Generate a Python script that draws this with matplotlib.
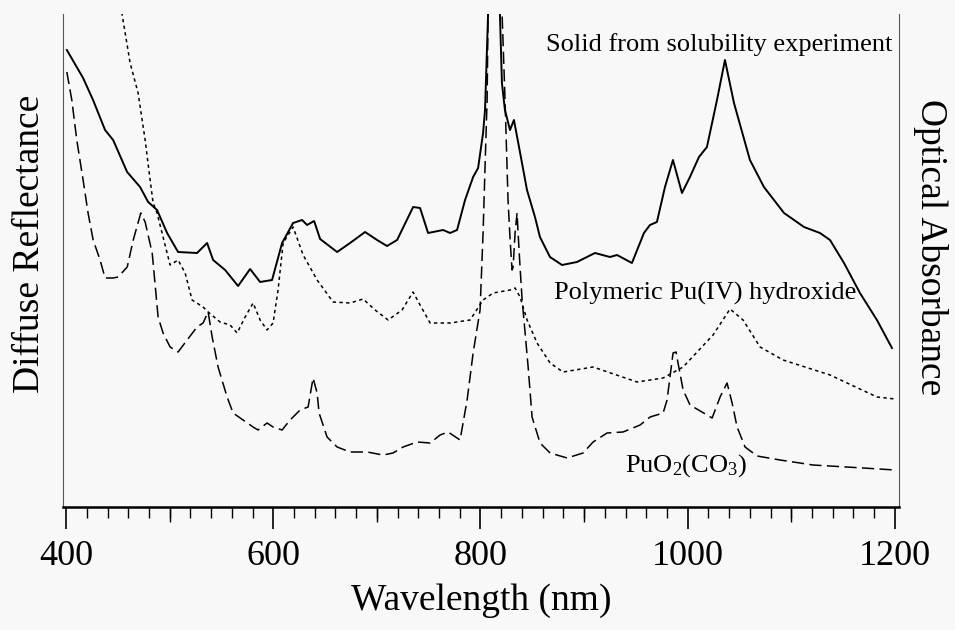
import matplotlib
matplotlib.use("Agg")
import matplotlib.pyplot as plt
import numpy as np

plt.rcParams['font.family'] = ['Liberation Serif', 'DejaVu Serif']
plt.rcParams['mathtext.fontset'] = 'custom'
plt.rcParams['mathtext.rm'] = 'Liberation Serif'
plt.rcParams['mathtext.it'] = 'Liberation Serif:italic'

# ---- data (wavelength in nm, relative intensity in arbitrary units) ----
solid_wl = [400.7, 416.4, 426, 437.6, 445.4, 458.9, 471.4, 479.2, 487.8, 497.5, 508.1,
            526.4, 536.1, 541.9, 553.5, 566, 577.6, 587.3, 598.8, 608.5, 619.1, 627.8,
            632.6, 639.4, 645.2, 661.6, 674.1, 688.6, 700.2, 709.8, 719.5, 735, 741.7,
            749.4, 763.9, 770.7, 777.4, 785.1, 792.9, 797.7, 802.5, 804.4, 807.3, 812,
            818.8, 820.7, 823.6, 828.5, 832.3, 837.2, 844.9, 852.6, 857.4, 867.1, 878.7,
            893.1, 910.5, 925, 931.8, 946.2,
            957.8, 963.6, 970.3, 978.1, 985.8, 994.5, 1002.2, 1010.9, 1018.6, 1028.3,
            1036, 1044.7, 1060.1, 1073.6, 1093, 1112.3, 1127.7, 1137.4, 1150.9, 1166.3,
            1182.7, 1197.2]
solid_val = [457, 429, 407, 377, 367, 335, 320, 305, 297, 274, 255,
             254, 264, 247, 237, 221, 238, 225, 227, 264, 284, 287,
             282, 286, 268, 255, 264, 275, 267, 261, 267, 300, 299,
             274, 277, 274, 277, 307, 330, 339, 374, 397, 492, 620,
             492, 424, 397, 377, 387, 360, 317, 290, 270, 250, 242,
             245, 254, 250, 252, 244,
             274, 282, 285, 320, 347, 314, 330, 350, 360, 407,
             447, 404, 347, 320, 294, 280, 274, 267, 244, 214,
             187, 159]

poly_wl = [445, 453.8, 461.8, 469.5, 476.3, 481.1, 484, 487.8, 493.6, 500.4, 508.1,
           514.9, 521.6, 532.2, 537.1, 548.6, 558.3, 565.1, 572.8, 580.5, 587.3, 594,
           599.8, 604.6, 609.5, 619.1,
           628.8, 642.3, 657.7, 674.1, 686.7, 698.3, 710.8, 724.3, 734.9, 741.7, 751.4,
           770.7, 790, 802.5, 812.2, 828.6, 833.4, 838.2, 845, 854.6, 867.2, 879.7,
           908.7, 951.2,
           976.3, 995.6, 1024.5, 1040.9, 1053.5, 1069.9, 1092.1, 1137.5, 1153.9,
           1182.8, 1200.2]
poly_val = [570, 494, 444, 414, 367, 327, 304, 294, 270, 242, 247,
            234, 207, 200, 195, 185, 182, 174, 190, 204, 187, 177,
            184, 217, 264, 280,
            252, 227, 205, 204, 208, 197, 187, 197, 215, 202, 184,
            184, 187, 207, 214, 217, 219, 210, 187, 164, 144, 135,
            140, 125,
            129, 140, 172, 198, 187, 160, 147, 132, 124,
            110, 108]

puo2_wl = [400.7, 405.5, 410.3, 416.4, 421.2, 426.1, 432.8, 437.6, 445.4, 450.2, 459,
           464.8, 472.1, 476.3, 483.1, 488.8, 493.6, 500.4, 508.1, 516.8, 526.4, 532.2,
           537.1, 541, 546.7, 555.4, 561.2, 570.8, 580.5, 585.3, 594, 599.8, 608.5,
           616.2, 625.9, 633.6, 638.4, 642.3, 644.2, 651.9, 661.6, 674.1, 690.5, 706,
           715.6, 725.3, 738.8, 751.4, 761, 768.7, 780.3, 787.1, 792.9, 799.6, 802.5,
           804.4, 806.4, 807.3, 812, 820.9, 823.7, 826.6, 828.6, 830.5, 831.5, 833.4,
           835.3, 836.3, 838.2, 840.2, 843.1, 846, 849.8, 857.5, 867.2, 883.6, 899,
           908.7, 922.2, 937.6, 954.1, 963.7, 976.3, 980.1, 985.9, 988.8, 990.7,
           995.6, 1002.3, 1018.7, 1023.6, 1031.3, 1038, 1042.9, 1047.7, 1055.4, 1067,
           1089.2, 1121, 1169.3, 1200.2]
puo2_val = [435, 407, 367, 327, 294, 267, 247, 229, 229, 230, 240,
            267, 294, 285, 254, 190, 174, 160, 155, 167, 180, 184,
            195, 170, 140, 110, 94, 87, 80, 77, 84, 80, 77,
            87, 97, 100, 129, 114, 94, 70, 60, 55, 55, 52,
            54, 60, 65, 64, 72, 75, 67, 107, 154, 197, 274,
            340, 407, 492, 620, 492, 407, 307, 267, 237, 240, 274,
            294, 274, 240, 207, 174, 140, 90, 64, 54, 49, 54,
            65, 74, 75, 82, 90, 94, 107, 154, 155, 144,
            117, 102, 92, 89, 110, 124, 104, 80, 60, 51,
            47, 42, 39, 37]

x_major = [400, 600, 800, 1000, 1200]
x_mid = [500, 700, 900, 1100]

label_solid = "Solid from solubility experiment"
label_poly = "Polymeric Pu(IV) hydroxide"
label_puo2 = r"PuO$_2$(CO$_3$)"

# ---- figure ----
bg = '#f8f8f8'
fig = plt.figure(figsize=(9.55, 6.3), dpi=100, facecolor=bg)
ax = fig.add_axes([63/955, 1-507/630, (899-63)/955, (507-14)/630])
ax.set_facecolor(bg)

ax.plot(solid_wl, solid_val, color='black', lw=1.4, solid_joinstyle='round')
ax.plot(poly_wl, poly_val, color='black', lw=1.1, linestyle=(0, (2.2, 2.2)))
ax.plot(puo2_wl, puo2_val, color='black', lw=1.1, linestyle=(0, (8, 3.5)))

ax.set_xlim(397, 1204)
ax.set_ylim(0, 493)

ax.spines['top'].set_visible(False)
for s in ('left', 'right'):
    ax.spines[s].set_linewidth(0.8)
    ax.spines[s].set_color('#555555')
ax.spines['bottom'].set_linewidth(1.8)
ax.spines['bottom'].set_color('black')

ax.set_yticks([])
ax.set_xticks(x_major)
ax.set_xticks(np.arange(400, 1201, 20), minor=True)
ax.tick_params(axis='x', which='major', direction='out', length=16, width=1.2,
               pad=8, labelsize=26, colors='black')
ax.tick_params(axis='x', which='minor', direction='out', length=8, width=1.0)

ax2 = ax.twiny()
ax2.set_xlim(ax.get_xlim())
ax2.xaxis.set_ticks_position('bottom')
ax2.set_xticks(x_mid)
ax2.set_xticklabels([])
ax2.tick_params(axis='x', which='major', direction='out', length=11, width=1.0)
for s in ax2.spines.values():
    s.set_visible(False)
ax2.set_yticks([])

ax.set_xlabel("Wavelength (nm)", fontsize=27, labelpad=7)

fig.text(30/955, 1-244/630, "Diffuse Reflectance", rotation=90, fontsize=27,
         ha='center', va='center')
fig.text(930/955, 1-247/630, "Optical Absorbance", rotation=270, fontsize=27,
         ha='center', va='center')

ax.text(1198, 462, label_solid, fontsize=19, ha='right', va='center')
ax.text(1162.5, 214, label_poly, fontsize=19, ha='right', va='center')
ax.text(998.5, 41, label_puo2, fontsize=19, ha='center', va='center')

fig.savefig("out.png", dpi=100, facecolor=bg)
